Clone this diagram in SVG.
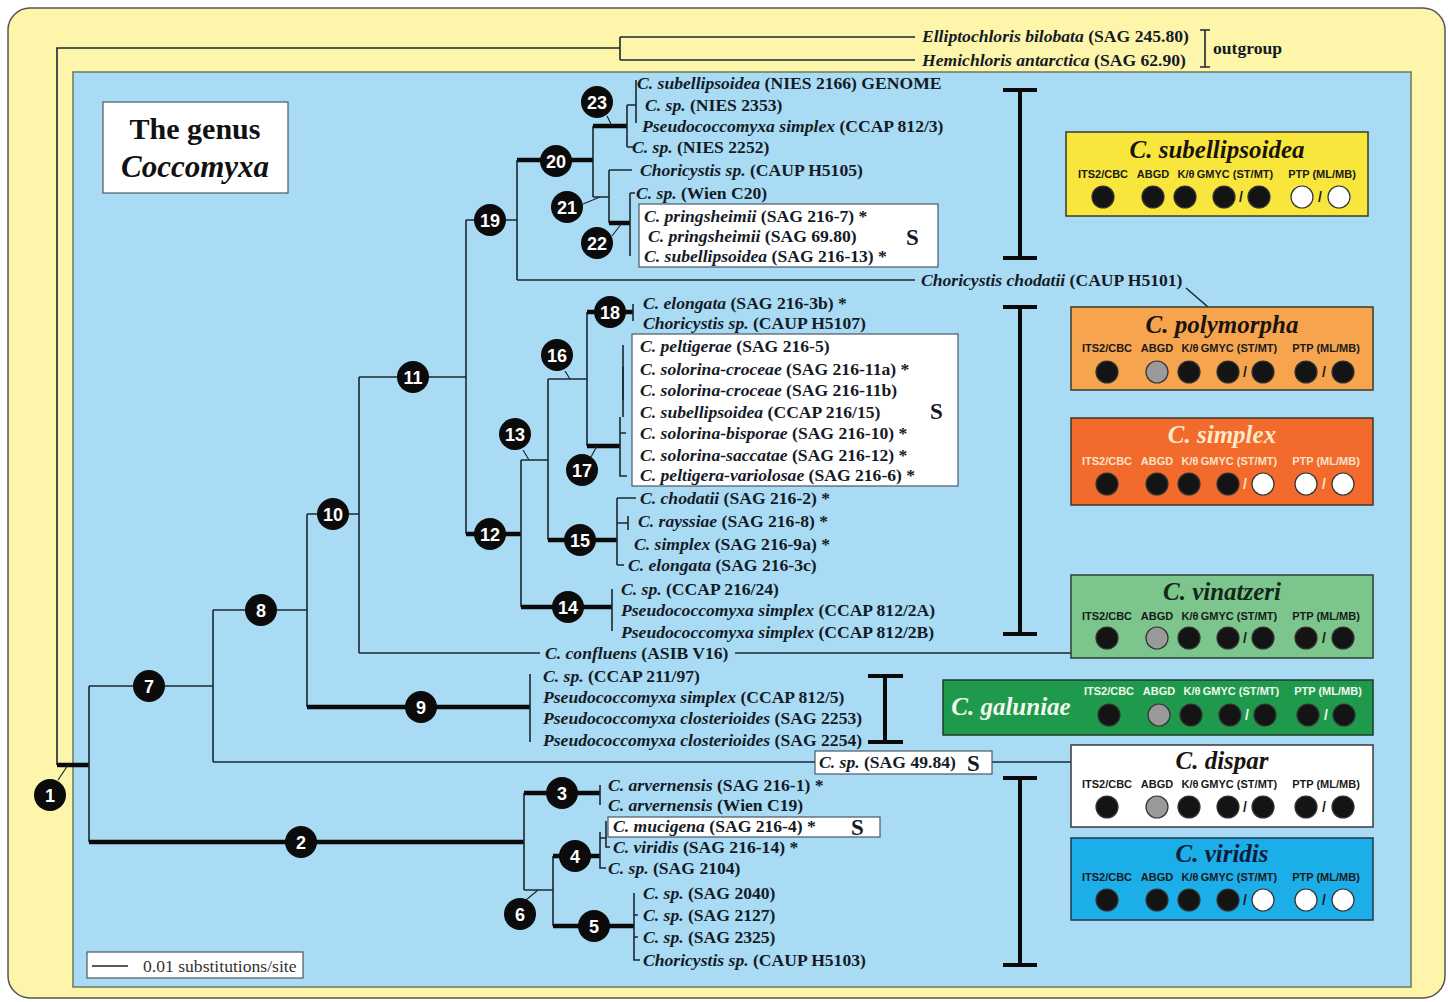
<svg xmlns="http://www.w3.org/2000/svg" width="1448" height="1002" viewBox="0 0 1448 1002">
<defs>
<style>
.br{stroke:#1b2733;stroke-width:1.6;fill:none}
.tk{stroke:#0a0a0a;stroke-width:4.5;fill:none}
.cn{stroke:#1b2733;stroke-width:1.2;fill:none}
.bk{stroke:#0a0a0a;stroke-width:4;fill:none}
.nd{fill:#0b0b0b}
.nt{font-family:"Liberation Sans",Arial,sans-serif;font-weight:bold;font-size:18px;fill:#fff;text-anchor:middle}
.lb{font-family:"Liberation Serif","Times New Roman",serif;font-weight:bold;font-size:17.6px;fill:#141a26}
.og{font-family:"Liberation Serif","Times New Roman",serif;font-weight:bold;font-size:17.6px;fill:#141a26}
.i{font-style:italic}
.S{font-family:"Liberation Serif","Times New Roman",serif;font-weight:bold;font-size:23px;fill:#141a26}
.wb{fill:#fff;stroke:#4a5866;stroke-width:1.2}
.ttl{font-family:"Liberation Serif","Times New Roman",serif;font-weight:bold;font-style:italic;font-size:25px;fill:#1a1410;text-anchor:middle}
.ml{font-family:"Liberation Sans",Arial,sans-serif;font-weight:bold;font-size:11px;fill:#1a1a1a;text-anchor:middle}
.B{fill:#141414;stroke:#333;stroke-width:1.2}
.G{fill:#9a9a9a;stroke:#333;stroke-width:1.2}
.W{fill:#fff;stroke:#333;stroke-width:1.2}
.sl{font-family:"Liberation Sans",Arial,sans-serif;font-weight:bold;font-size:14px;fill:#1a1a1a;text-anchor:middle}
</style>
</defs>

<rect id="frame" x="8" y="8" width="1437" height="990" rx="22" fill="#fdf6aa" stroke="#555" stroke-width="1.5"/>
<rect id="genus-area" x="73" y="72" width="1338" height="915" fill="#a9dcf4" stroke="#6a7a5c" stroke-width="1.5"/>

<g id="title">
<rect x="103" y="102" width="185" height="91" class="wb"/>
<text x="195" y="139" font-family="Liberation Serif,serif" font-weight="bold" font-size="30" text-anchor="middle" fill="#111">The genus</text>
<text x="195" y="177" font-family="Liberation Serif,serif" font-weight="bold" font-style="italic" font-size="31" text-anchor="middle" fill="#111">Coccomyxa</text>
</g>

<g id="scale">
<rect x="87" y="952" width="216" height="26" class="wb"/>
<line x1="92" y1="966" x2="128" y2="966" stroke="#222" stroke-width="1.6"/>
<text x="143" y="972" font-family="Liberation Serif,serif" font-size="17.6" fill="#333">0.01 substitutions/site</text>
</g>

<g id="connectors">
<path class="br" d="M57,765V48H620M620,37V60M620,37H915M620,60H915"/>
<path class="tk" d="M57,765H89"/>
<path class="br" d="M89,686V842M89,686H213M213,610V762M213,610H307M213,762H815M307,514V707M307,514H359"/>
<path class="tk" d="M307,707H530"/>
<path class="br" d="M530,674V742M359,377V653M359,377H466M359,653H540M735,653H1071M466,220V534M466,220H517"/>
<path class="tk" d="M466,534H521M517,160H593"/>
<path class="br" d="M517,160V280M517,280H915M593,126V197"/>
<path class="tk" d="M593,126H627"/>
<path class="br" d="M627,105V147M627,147H633M627,105H636M636,80V123M593,197H609M609,170V223M609,170H632"/>
<path class="tk" d="M609,223H630"/>
<path class="br" d="M630,193V256M630,193H635M521,460V607M521,460H548"/>
<path class="tk" d="M521,607H612"/>
<path class="br" d="M612,589V631M548,379V540M548,379H587"/>
<path class="tk" d="M548,540H617"/>
<path class="br" d="M617,498V565M617,498H636M617,565H624M628,516V530M617,523H628M587,312V446"/>
<path class="tk" d="M587,312H633M587,446H620"/>
<path class="br" stroke-width="2.2" d="M633,304V321"/>
<path class="br" d="M623,345V417M620,417V476H627M620,433H626"/>
<path class="br" stroke-width="3.5" d="M623,367V400"/>
<path class="tk" d="M89,842H524"/>
<path class="br" d="M524,793V890"/>
<path class="tk" d="M524,793H600"/>
<path class="br" stroke-width="2" d="M600,785V805"/>
<path class="br" d="M524,890H553M553,856V926"/>
<path class="tk" d="M553,856H600"/>
<path class="br" d="M600,832V868H606M600,838H606M606,821V847H610"/>
<path class="tk" d="M553,926H634"/>
<path class="br" d="M634,893V960H640M634,915H638M634,937H638"/>
<path class="br" d="M1186,288L1208,307M992,762H1071"/>
<path class="cn" d="M58,780L68,765M526,900L538,890M523,450L529,460M565,371L570,379M591,457L597,446M583,204L600,197M612,236L622,223M607,116L612,126"/>
</g>

<g id="brackets">
<path class="bk" d="M1020,90V258M1003,90H1037M1003,258H1037"/>
<path class="bk" d="M1020,307V634M1003,307H1037M1003,634H1037"/>
<path class="bk" d="M1020,778V965M1003,778H1037M1003,965H1037"/>
<path class="bk" d="M885,676V742M868,676H903M868,742H903"/>
<path class="br" d="M1205,30V67M1200,30H1210M1200,67H1210"/>
</g>

<g id="n1"><circle cx="50" cy="795" r="16" class="nd"/><text x="50" y="802" class="nt">1</text></g>
<g id="n2"><circle cx="301" cy="842" r="16" class="nd"/><text x="301" y="849" class="nt">2</text></g>
<g id="n3"><circle cx="562" cy="793" r="16" class="nd"/><text x="562" y="800" class="nt">3</text></g>
<g id="n4"><circle cx="575" cy="856" r="16" class="nd"/><text x="575" y="863" class="nt">4</text></g>
<g id="n5"><circle cx="594" cy="926" r="16" class="nd"/><text x="594" y="933" class="nt">5</text></g>
<g id="n6"><circle cx="520" cy="914" r="16" class="nd"/><text x="520" y="921" class="nt">6</text></g>
<g id="n7"><circle cx="149" cy="686" r="16" class="nd"/><text x="149" y="693" class="nt">7</text></g>
<g id="n8"><circle cx="261" cy="610" r="16" class="nd"/><text x="261" y="617" class="nt">8</text></g>
<g id="n9"><circle cx="421" cy="707" r="16" class="nd"/><text x="421" y="714" class="nt">9</text></g>
<g id="n10"><circle cx="333" cy="514" r="16" class="nd"/><text x="333" y="521" class="nt">10</text></g>
<g id="n11"><circle cx="413" cy="377" r="16" class="nd"/><text x="413" y="384" class="nt">11</text></g>
<g id="n12"><circle cx="490" cy="534" r="16" class="nd"/><text x="490" y="541" class="nt">12</text></g>
<g id="n13"><circle cx="515" cy="434" r="16" class="nd"/><text x="515" y="441" class="nt">13</text></g>
<g id="n14"><circle cx="568" cy="607" r="16" class="nd"/><text x="568" y="614" class="nt">14</text></g>
<g id="n15"><circle cx="580" cy="540" r="16" class="nd"/><text x="580" y="547" class="nt">15</text></g>
<g id="n16"><circle cx="557" cy="355" r="16" class="nd"/><text x="557" y="362" class="nt">16</text></g>
<g id="n17"><circle cx="582" cy="470" r="16" class="nd"/><text x="582" y="477" class="nt">17</text></g>
<g id="n18"><circle cx="610" cy="312" r="16" class="nd"/><text x="610" y="319" class="nt">18</text></g>
<g id="n19"><circle cx="490" cy="220" r="16" class="nd"/><text x="490" y="227" class="nt">19</text></g>
<g id="n20"><circle cx="556" cy="161" r="16" class="nd"/><text x="556" y="168" class="nt">20</text></g>
<g id="n21"><circle cx="567" cy="207" r="16" class="nd"/><text x="567" y="214" class="nt">21</text></g>
<g id="n22"><circle cx="597" cy="243" r="16" class="nd"/><text x="597" y="250" class="nt">22</text></g>
<g id="n23"><circle cx="597" cy="102" r="16" class="nd"/><text x="597" y="109" class="nt">23</text></g>

<g id="outgroup">
<text x="922" y="42" class="og"><tspan class="i">Elliptochloris bilobata</tspan> (SAG 245.80)</text>
<text x="922" y="66" class="og"><tspan class="i">Hemichloris antarctica</tspan> (SAG 62.90)</text>
<text x="1213" y="54" class="og">outgroup</text>
</g>

<g id="tips">
<text x="637" y="89" class="lb"><tspan class="i">C. subellipsoidea</tspan> (NIES 2166) GENOME</text>
<text x="645" y="111" class="lb"><tspan class="i">C. sp.</tspan> (NIES 2353)</text>
<text x="642" y="132" class="lb"><tspan class="i">Pseudococcomyxa simplex</tspan> (CCAP 812/3)</text>
<text x="632" y="153" class="lb"><tspan class="i">C. sp.</tspan> (NIES 2252)</text>
<text x="640" y="176" class="lb"><tspan class="i">Choricystis sp.</tspan> (CAUP H5105)</text>
<text x="636" y="199" class="lb"><tspan class="i">C. sp.</tspan> (Wien C20)</text>
<rect x="639" y="204" width="299" height="63" class="wb"/>
<text x="644" y="222" class="lb"><tspan class="i">C. pringsheimii</tspan> (SAG 216-7) *</text>
<text x="648" y="242" class="lb"><tspan class="i">C. pringsheimii</tspan> (SAG 69.80)</text>
<text x="644" y="262" class="lb"><tspan class="i">C. subellipsoidea</tspan> (SAG 216-13) *</text>
<text x="906" y="245" class="S">S</text>
<text x="921" y="286" class="lb"><tspan class="i">Choricystis chodatii</tspan> (CAUP H5101)</text>
<text x="643" y="309" class="lb"><tspan class="i">C. elongata</tspan> (SAG 216-3b) *</text>
<text x="643" y="329" class="lb"><tspan class="i">Choricystis sp.</tspan> (CAUP H5107)</text>
<rect x="632" y="334" width="326" height="152" class="wb"/>
<text x="640" y="352" class="lb"><tspan class="i">C. peltigerae</tspan> (SAG 216-5)</text>
<text x="640" y="375" class="lb"><tspan class="i">C. solorina-croceae</tspan> (SAG 216-11a) *</text>
<text x="640" y="396" class="lb"><tspan class="i">C. solorina-croceae</tspan> (SAG 216-11b)</text>
<text x="640" y="418" class="lb"><tspan class="i">C. subellipsoidea</tspan> (CCAP 216/15)</text>
<text x="640" y="439" class="lb"><tspan class="i">C. solorina-bisporae</tspan> (SAG 216-10) *</text>
<text x="640" y="461" class="lb"><tspan class="i">C. solorina-saccatae</tspan> (SAG 216-12) *</text>
<text x="640" y="481" class="lb"><tspan class="i">C. peltigera-variolosae</tspan> (SAG 216-6) *</text>
<text x="930" y="419" class="S">S</text>
<text x="640" y="504" class="lb"><tspan class="i">C. chodatii</tspan> (SAG 216-2) *</text>
<text x="638" y="527" class="lb"><tspan class="i">C. rayssiae</tspan> (SAG 216-8) *</text>
<text x="634" y="550" class="lb"><tspan class="i">C. simplex</tspan> (SAG 216-9a) *</text>
<text x="628" y="571" class="lb"><tspan class="i">C. elongata</tspan> (SAG 216-3c)</text>
<text x="621" y="595" class="lb"><tspan class="i">C. sp.</tspan> (CCAP 216/24)</text>
<text x="621" y="616" class="lb"><tspan class="i">Pseudococcomyxa simplex</tspan> (CCAP 812/2A)</text>
<text x="621" y="638" class="lb"><tspan class="i">Pseudococcomyxa simplex</tspan> (CCAP 812/2B)</text>
<text x="545" y="659" class="lb"><tspan class="i">C. confluens</tspan> (ASIB V16)</text>
<text x="543" y="682" class="lb"><tspan class="i">C. sp.</tspan> (CCAP 211/97)</text>
<text x="543" y="703" class="lb"><tspan class="i">Pseudococcomyxa simplex</tspan> (CCAP 812/5)</text>
<text x="543" y="724" class="lb"><tspan class="i">Pseudococcomyxa closterioides</tspan> (SAG 2253)</text>
<text x="543" y="746" class="lb"><tspan class="i">Pseudococcomyxa closterioides</tspan> (SAG 2254)</text>
<rect x="815" y="751" width="177" height="23" class="wb"/>
<text x="819" y="768" class="lb"><tspan class="i">C. sp.</tspan> (SAG 49.84)</text>
<text x="967" y="771" class="S">S</text>
<text x="608" y="791" class="lb"><tspan class="i">C. arvernensis</tspan> (SAG 216-1) *</text>
<text x="608" y="811" class="lb"><tspan class="i">C. arvernensis</tspan> (Wien C19)</text>
<rect x="608" y="817" width="272" height="20" class="wb"/>
<text x="613" y="832" class="lb"><tspan class="i">C. mucigena</tspan> (SAG 216-4) *</text>
<text x="851" y="835" class="S">S</text>
<text x="613" y="853" class="lb"><tspan class="i">C. viridis</tspan> (SAG 216-14) *</text>
<text x="608" y="874" class="lb"><tspan class="i">C. sp.</tspan> (SAG 2104)</text>
<text x="643" y="899" class="lb"><tspan class="i">C. sp.</tspan> (SAG 2040)</text>
<text x="643" y="921" class="lb"><tspan class="i">C. sp.</tspan> (SAG 2127)</text>
<text x="643" y="943" class="lb"><tspan class="i">C. sp.</tspan> (SAG 2325)</text>
<text x="643" y="966" class="lb"><tspan class="i">Choricystis sp.</tspan> (CAUP H5103)</text>
</g>

<g id="sp-subellipsoidea">
<rect x="1066" y="132" width="302" height="84" fill="#f8e63c" stroke="#3a3a2a" stroke-width="1.5"/>
<text x="1217" y="158" class="ttl">C. subellipsoidea</text>
<g transform="translate(-4,0)">
<text x="1107" y="178" class="ml">ITS2/CBC</text><text x="1157" y="178" class="ml">ABGD</text><text x="1190" y="178" class="ml">K/θ</text><text x="1239" y="178" class="ml">GMYC (ST/MT)</text><text x="1326" y="178" class="ml">PTP (ML/MB)</text>
<circle cx="1107" cy="197" r="11" class="B"/><circle cx="1157" cy="197" r="11" class="B"/><circle cx="1189" cy="197" r="11" class="B"/><circle cx="1228" cy="197" r="11" class="B"/><text x="1245" y="202" class="sl">/</text><circle cx="1263" cy="197" r="11" class="B"/><circle cx="1306" cy="197" r="11" class="W"/><text x="1324" y="202" class="sl">/</text><circle cx="1343" cy="197" r="11" class="W"/>
</g>
</g>

<g id="sp-polymorpha">
<rect x="1071" y="307" width="302" height="83" fill="#f6a44e" stroke="#3a3a2a" stroke-width="1.5"/>
<text x="1222" y="333" class="ttl">C. polymorpha</text>
<text x="1107" y="352" class="ml">ITS2/CBC</text><text x="1157" y="352" class="ml">ABGD</text><text x="1190" y="352" class="ml">K/θ</text><text x="1239" y="352" class="ml">GMYC (ST/MT)</text><text x="1326" y="352" class="ml">PTP (ML/MB)</text>
<circle cx="1107" cy="372" r="11" class="B"/><circle cx="1157" cy="372" r="11" class="G"/><circle cx="1189" cy="372" r="11" class="B"/><circle cx="1228" cy="372" r="11" class="B"/><text x="1245" y="377" class="sl">/</text><circle cx="1263" cy="372" r="11" class="B"/><circle cx="1306" cy="372" r="11" class="B"/><text x="1324" y="377" class="sl">/</text><circle cx="1343" cy="372" r="11" class="B"/>
</g>

<g id="sp-simplex">
<rect x="1071" y="418" width="302" height="87" fill="#f26a2c" stroke="#3a3a2a" stroke-width="1.5"/>
<text x="1222" y="443" class="ttl" style="fill:#fde9c6">C. simplex</text>
<text x="1107" y="465" class="ml" style="fill:#f9e2c8">ITS2/CBC</text><text x="1157" y="465" class="ml" style="fill:#f9e2c8">ABGD</text><text x="1190" y="465" class="ml" style="fill:#f9e2c8">K/θ</text><text x="1239" y="465" class="ml" style="fill:#f9e2c8">GMYC (ST/MT)</text><text x="1326" y="465" class="ml" style="fill:#f9e2c8">PTP (ML/MB)</text>
<circle cx="1107" cy="484" r="11" class="B"/><circle cx="1157" cy="484" r="11" class="B"/><circle cx="1189" cy="484" r="11" class="B"/><circle cx="1228" cy="484" r="11" class="B"/><text x="1245" y="489" class="sl" style="fill:#fde9c6">/</text><circle cx="1263" cy="484" r="11" class="W"/><circle cx="1306" cy="484" r="11" class="W"/><text x="1324" y="489" class="sl" style="fill:#fde9c6">/</text><circle cx="1343" cy="484" r="11" class="W"/>
</g>

<g id="sp-vinatzeri">
<rect x="1071" y="575" width="302" height="83" fill="#7cc58c" stroke="#2f3f33" stroke-width="1.5"/>
<text x="1222" y="600" class="ttl" style="fill:#15261a">C. vinatzeri</text>
<text x="1107" y="620" class="ml">ITS2/CBC</text><text x="1157" y="620" class="ml">ABGD</text><text x="1190" y="620" class="ml">K/θ</text><text x="1239" y="620" class="ml">GMYC (ST/MT)</text><text x="1326" y="620" class="ml">PTP (ML/MB)</text>
<circle cx="1107" cy="638" r="11" class="B"/><circle cx="1157" cy="638" r="11" class="G"/><circle cx="1189" cy="638" r="11" class="B"/><circle cx="1228" cy="638" r="11" class="B"/><text x="1245" y="643" class="sl">/</text><circle cx="1263" cy="638" r="11" class="B"/><circle cx="1306" cy="638" r="11" class="B"/><text x="1324" y="643" class="sl">/</text><circle cx="1343" cy="638" r="11" class="B"/>
</g>

<g id="sp-galuniae">
<rect x="943" y="680" width="430" height="55" fill="#1f9a4c" stroke="#1f3a2a" stroke-width="1.5"/>
<text x="1011" y="715" class="ttl" style="fill:#f2f7ee">C. galuniae</text>
<text x="1109" y="695" class="ml" style="fill:#f2f7ee">ITS2/CBC</text><text x="1159" y="695" class="ml" style="fill:#f2f7ee">ABGD</text><text x="1192" y="695" class="ml" style="fill:#f2f7ee">K/θ</text><text x="1241" y="695" class="ml" style="fill:#f2f7ee">GMYC (ST/MT)</text><text x="1328" y="695" class="ml" style="fill:#f2f7ee">PTP (ML/MB)</text>
<circle cx="1109" cy="715" r="11" class="B"/><circle cx="1159" cy="715" r="11" class="G"/><circle cx="1191" cy="715" r="11" class="B"/><circle cx="1230" cy="715" r="11" class="B"/><text x="1247" y="720" class="sl" style="fill:#f2f7ee">/</text><circle cx="1265" cy="715" r="11" class="B"/><circle cx="1308" cy="715" r="11" class="B"/><text x="1326" y="720" class="sl" style="fill:#f2f7ee">/</text><circle cx="1344" cy="715" r="11" class="B"/>
</g>

<g id="sp-dispar">
<rect x="1071" y="745" width="302" height="82" fill="#ffffff" stroke="#3a3a3a" stroke-width="1.5"/>
<text x="1222" y="769" class="ttl">C. dispar</text>
<text x="1107" y="788" class="ml">ITS2/CBC</text><text x="1157" y="788" class="ml">ABGD</text><text x="1190" y="788" class="ml">K/θ</text><text x="1239" y="788" class="ml">GMYC (ST/MT)</text><text x="1326" y="788" class="ml">PTP (ML/MB)</text>
<circle cx="1107" cy="807" r="11" class="B"/><circle cx="1157" cy="807" r="11" class="G"/><circle cx="1189" cy="807" r="11" class="B"/><circle cx="1228" cy="807" r="11" class="B"/><text x="1245" y="812" class="sl">/</text><circle cx="1263" cy="807" r="11" class="B"/><circle cx="1306" cy="807" r="11" class="B"/><text x="1324" y="812" class="sl">/</text><circle cx="1343" cy="807" r="11" class="B"/>
</g>

<g id="sp-viridis">
<rect x="1071" y="838" width="302" height="82" fill="#1caee8" stroke="#22384a" stroke-width="1.5"/>
<text x="1222" y="862" class="ttl" style="fill:#101c3a">C. viridis</text>
<text x="1107" y="881" class="ml">ITS2/CBC</text><text x="1157" y="881" class="ml">ABGD</text><text x="1190" y="881" class="ml">K/θ</text><text x="1239" y="881" class="ml">GMYC (ST/MT)</text><text x="1326" y="881" class="ml">PTP (ML/MB)</text>
<circle cx="1107" cy="900" r="11" class="B"/><circle cx="1157" cy="900" r="11" class="B"/><circle cx="1189" cy="900" r="11" class="B"/><circle cx="1228" cy="900" r="11" class="B"/><text x="1245" y="905" class="sl">/</text><circle cx="1263" cy="900" r="11" class="W"/><circle cx="1306" cy="900" r="11" class="W"/><text x="1324" y="905" class="sl">/</text><circle cx="1343" cy="900" r="11" class="W"/>
</g>
</svg>
